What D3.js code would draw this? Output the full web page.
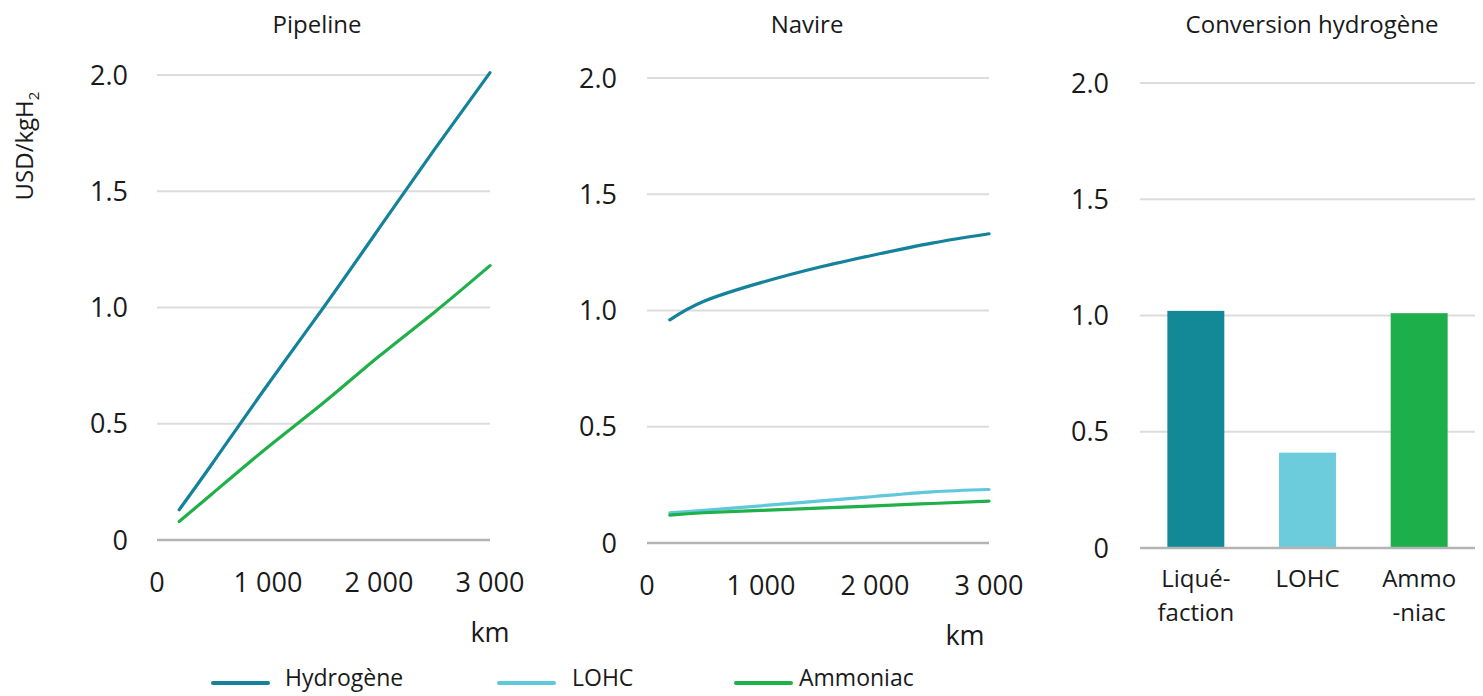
<!DOCTYPE html>
<html>
<head>
<meta charset="utf-8">
<script src="https://cdn.jsdelivr.net/npm/d3@7"></script>
<style>
  html, body { margin: 0; padding: 0; background: #fff; }
  svg { display: block; font-family: "Open Sans", "Noto Sans", sans-serif; }
</style>
</head>
<body>
<svg id="chart" width="1483" height="696"></svg>
<script>
// ---- Data ----
const distances = [200, 500, 1000, 1500, 2000, 2500, 3000];
const pipelineHydrogene = [0.13, 0.33, 0.67, 1.00, 1.34, 1.68, 2.01];
const pipelineAmmoniac  = [0.08, 0.20, 0.40, 0.59, 0.79, 0.98, 1.18];
const navireHydrogene   = [0.96, 1.04, 1.12, 1.185, 1.24, 1.29, 1.33];
const navireLOHC        = [0.13, 0.14, 0.16, 0.18, 0.20, 0.22, 0.23];
const navireAmmoniac    = [0.12, 0.13, 0.14, 0.15, 0.16, 0.17, 0.18];
const conversionCategories = ["Liquéfaction", "LOHC", "Ammoniac"];
const conversionLabels = [["Liqué-", "faction"], ["LOHC"], ["Ammo", "-niac"]];
const conversionValues = [1.02, 0.41, 1.01];
const yTicks = [0, 0.5, 1.0, 1.5, 2.0];
const yTickLabels = ["0", "0.5", "1.0", "1.5", "2.0"];
const xTicks = [0, 1000, 2000, 3000];
const xTickLabels = ["0", "1 000", "2 000", "3 000"];
const panelTitles = ["Pipeline", "Navire", "Conversion hydrogène"];
const legendNames = ["Hydrogène", "LOHC", "Ammoniac"];

const colors = { "Hydrogène": "#13829a", "LOHC": "#5fc8da", "Ammoniac": "#1fb04a" };
const barColors = ["#138896", "#6dccdc", "#1caf4a"];

const svg = d3.select("#chart");
const textColor = "#1a1a1a";
const tickSize = 27;

function yAxisPanel(g, y, x0, x1, labelX) {
  g.selectAll("line.grid").data(yTicks.filter(t => t > 0)).join("line")
    .attr("x1", x0).attr("x2", x1)
    .attr("y1", d => y(d)).attr("y2", d => y(d))
    .attr("stroke", "#dcdcdc").attr("stroke-width", 2);
  g.append("line").attr("x1", x0).attr("x2", x1)
    .attr("y1", y(0)).attr("y2", y(0))
    .attr("stroke", "#b4b4b4").attr("stroke-width", 2.5);
  g.selectAll("text.ytick").data(yTicks).join("text")
    .attr("class", "ytick")
    .attr("x", labelX).attr("y", d => y(d))
    .attr("dy", "0.36em")
    .attr("text-anchor", "end")
    .attr("font-size", tickSize).attr("fill", textColor)
    .text((d, i) => yTickLabels[i]);
}

function linePanel(cfg) {
  const g = svg.append("g");
  const x = d3.scaleLinear().domain([0, 3000]).range([cfg.x0, cfg.x1]);
  const y = d3.scaleLinear().domain([0, 2]).range([cfg.yb, cfg.yt]);
  yAxisPanel(g, y, cfg.x0, cfg.x1, cfg.labelX);
  g.selectAll("text.xtick").data(xTicks).join("text")
    .attr("x", d => x(d)).attr("y", cfg.xtickY)
    .attr("dy", "0.36em").attr("text-anchor", "middle")
    .attr("font-size", tickSize).attr("fill", textColor)
    .text((d, i) => xTickLabels[i]);
  g.append("text").attr("x", cfg.kmX).attr("y", cfg.kmY)
    .attr("dy", "0.36em").attr("text-anchor", "middle")
    .attr("font-size", tickSize).attr("fill", textColor).text("km");
  g.append("text").attr("x", cfg.titleX).attr("y", 24)
    .attr("dy", "0.36em").attr("text-anchor", "middle")
    .attr("font-size", 24).attr("fill", textColor).text(cfg.title);
  const line = d3.line().x(d => x(d[0])).y(d => y(d[1])).curve(d3.curveNatural);
  cfg.series.forEach(s => {
    g.append("path")
      .datum(distances.map((dd, i) => [dd, s.values[i]]))
      .attr("d", line)
      .attr("fill", "none")
      .attr("stroke", colors[s.name])
      .attr("stroke-width", 3.2)
      .attr("stroke-linecap", "round");
  });
}

linePanel({
  title: panelTitles[0], titleX: 317,
  x0: 157, x1: 490, yb: 540, yt: 75, labelX: 128,
  xtickY: 582, kmX: 490, kmY: 632,
  series: [
    { name: "Ammoniac", values: pipelineAmmoniac },
    { name: "Hydrogène", values: pipelineHydrogene }
  ]
});

linePanel({
  title: panelTitles[1], titleX: 807,
  x0: 647, x1: 989, yb: 543, yt: 78, labelX: 617,
  xtickY: 585, kmX: 965, kmY: 635,
  series: [
    { name: "LOHC", values: navireLOHC },
    { name: "Ammoniac", values: navireAmmoniac },
    { name: "Hydrogène", values: navireHydrogene }
  ]
});

// Bar panel
(function () {
  const g = svg.append("g");
  const x0 = 1140, x1 = 1475;
  const x = d3.scaleBand().domain(conversionCategories).range([x0, x1]).paddingInner(0.49).paddingOuter(0.245);
  const y = d3.scaleLinear().domain([0, 2]).range([548, 83]);
  g.selectAll("line.grid").data(yTicks.filter(t => t > 0)).join("line")
    .attr("x1", x0).attr("x2", x1)
    .attr("y1", d => y(d)).attr("y2", d => y(d))
    .attr("stroke", "#dcdcdc").attr("stroke-width", 2);
  g.selectAll("rect").data(conversionValues).join("rect")
    .attr("x", (d, i) => x(conversionCategories[i]))
    .attr("width", x.bandwidth())
    .attr("y", d => y(d))
    .attr("height", d => y(0) - y(d))
    .attr("fill", (d, i) => barColors[i]);
  g.append("line").attr("x1", x0).attr("x2", x1)
    .attr("y1", y(0)).attr("y2", y(0))
    .attr("stroke", "#b4b4b4").attr("stroke-width", 2.5);
  g.selectAll("text.ytick").data(yTicks).join("text")
    .attr("x", 1109).attr("y", d => y(d))
    .attr("dy", "0.36em").attr("text-anchor", "end")
    .attr("font-size", tickSize).attr("fill", textColor)
    .text((d, i) => yTickLabels[i]);
  conversionLabels.forEach((lines, i) => {
    const cx = x(conversionCategories[i]) + x.bandwidth() / 2;
    const t = g.append("text")
      .attr("x", cx).attr("y", 578).attr("text-anchor", "middle")
      .attr("font-size", 24).attr("fill", textColor);
    lines.forEach((ln, j) => {
      t.append("tspan").attr("x", cx)
        .attr("y", 578 + j * 34).attr("dy", "0.36em").text(ln);
    });
  });
  g.append("text").attr("x", 1312).attr("y", 24)
    .attr("dy", "0.36em").attr("text-anchor", "middle")
    .attr("font-size", 24).attr("fill", textColor).text(panelTitles[2]);
})();

// Y axis title
const yt = svg.append("text")
  .attr("transform", "translate(33,146) rotate(-90)")
  .attr("text-anchor", "middle")
  .attr("font-size", 24).attr("fill", textColor);
yt.append("tspan").text("USD/kgH");
yt.append("tspan").attr("font-size", 15).attr("dy", 6).text("2");

// Legend
const legendPos = [{ lx: 213, tx: 285 }, { lx: 499, tx: 572 }, { lx: 736, tx: 799 }];
legendNames.forEach((n, i) => {
  const p = legendPos[i];
  svg.append("line").attr("x1", p.lx).attr("x2", p.lx + 55)
    .attr("y1", 683).attr("y2", 683)
    .attr("stroke", colors[n]).attr("stroke-width", 4).attr("stroke-linecap", "round");
  svg.append("text").attr("x", p.tx).attr("y", 678).attr("dy", "0.36em")
    .attr("font-size", 23).attr("fill", textColor).text(n);
});
</script>
</body>
</html>
